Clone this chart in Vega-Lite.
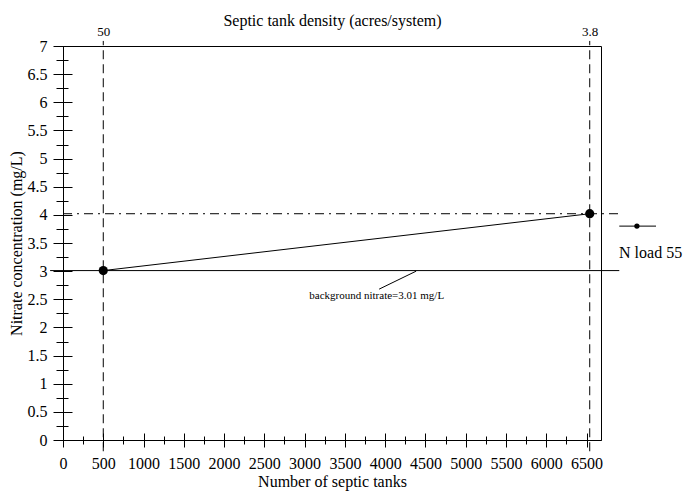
{
  "$schema": "https://vega.github.io/schema/vega-lite/v6.json",
  "width": 538,
  "height": 394,
  "autosize": {"type": "none"},
  "padding": {"left": 63, "top": 46, "right": 82, "bottom": 51},
  "background": "white",
  "config": {
    "font": "Liberation Serif",
    "view": {"stroke": "black", "strokeWidth": 1},
    "axis": {
      "grid": false,
      "domainColor": "black",
      "tickColor": "black",
      "labelColor": "black",
      "titleColor": "black",
      "labelFont": "Liberation Serif",
      "titleFont": "Liberation Serif",
      "titleFontWeight": "normal",
      "labelOverlap": false,
      "labelFlush": false,
      "domainWidth": 1,
      "tickWidth": 1
    },
    "text": {"font": "Liberation Serif", "color": "black"}
  },
  "datasets": {
    "solidSegments": [
      {"x": -160, "x2": 6907, "y": 3.01, "y2": 3.01},
      {"x": 3925, "x2": 4385, "y": 2.68, "y2": 3.0},
      {"x": 6907, "x2": 7363, "y": 3.8, "y2": 3.8}
    ],
    "densityMarkers": [
      {"x": 500, "y": -0.2, "y2": 7.09, "density": "50"},
      {"x": 6540, "y": -0.2, "y2": 7.09, "density": "3.8"}
    ],
    "targetLevel": [
      {"x": 0, "x2": 6907, "y": 4.02}
    ],
    "nload55": [
      {"x": 500, "y": 3.01},
      {"x": 6540, "y": 4.02}
    ],
    "legendDot": [
      {"x": 7126, "y": 3.8}
    ],
    "noteText": [
      {"x": 3895, "y": 2.56, "label": "background nitrate=3.01 mg/L"}
    ],
    "legendText": [
      {"x": 6904, "y": 3.32, "label": "N load 55"}
    ]
  },
  "resolve": {"axis": {"x": "independent", "y": "independent"}},
  "layer": [
    {
      "data": {"name": "solidSegments"},
      "mark": {"type": "rule", "color": "black", "strokeWidth": 1},
      "encoding": {
        "x": {
          "field": "x", "type": "quantitative",
          "scale": {"domain": [0, 6680], "nice": false, "zero": false},
          "axis": {
            "orient": "bottom",
            "values": [0, 500, 1000, 1500, 2000, 2500, 3000, 3500, 4000, 4500, 5000, 5500, 6000, 6500],
            "format": "d",
            "tickSize": 7,
            "labelFontSize": 16,
            "labelPadding": 8,
            "title": "Number of septic tanks",
            "titleFontSize": 16,
            "titlePadding": 2
          }
        },
        "x2": {"field": "x2"},
        "y": {
          "field": "y", "type": "quantitative",
          "scale": {"domain": [0, 7], "nice": false, "zero": false},
          "axis": {
            "orient": "left",
            "values": [0, 0.5, 1, 1.5, 2, 2.5, 3, 3.5, 4, 4.5, 5, 5.5, 6, 6.5, 7],
            "format": "~g",
            "tickSize": 10,
            "labelFontSize": 16,
            "labelPadding": 6,
            "title": "Nitrate concentration (mg/L)",
            "titleFontSize": 16,
            "titlePadding": 3
          }
        },
        "y2": {"field": "y2"}
      }
    },
    {
      "data": {"name": "densityMarkers"},
      "mark": {"type": "rule", "color": "black", "strokeWidth": 1, "strokeDash": [9, 5]},
      "encoding": {
        "x": {
          "field": "x", "type": "quantitative",
          "scale": {"domain": [0, 6680], "nice": false, "zero": false},
          "axis": {
            "orient": "bottom",
            "values": [0, 500, 1000, 1500, 2000, 2500, 3000, 3500, 4000, 4500, 5000, 5500, 6000, 6500],
            "tickSize": 7, "offset": -7, "labels": false, "domain": false, "title": null
          }
        },
        "y": {
          "field": "y", "type": "quantitative",
          "scale": {"domain": [0, 7], "nice": false, "zero": false},
          "axis": {
            "orient": "left",
            "values": [0, 0.5, 1, 1.5, 2, 2.5, 3, 3.5, 4, 4.5, 5, 5.5, 6, 6.5, 7],
            "tickSize": 9, "offset": -9, "labels": false, "domain": false, "title": null
          }
        },
        "y2": {"field": "y2"}
      }
    },
    {
      "data": {"name": "targetLevel"},
      "mark": {"type": "rule", "color": "black", "strokeWidth": 1, "strokeDash": [9, 5, 2, 5]},
      "encoding": {
        "x": {
          "field": "x", "type": "quantitative",
          "scale": {"domain": [0, 6680], "nice": false, "zero": false},
          "axis": {
            "orient": "bottom",
            "values": [250, 750, 1250, 1750, 2250, 2750, 3250, 3750, 4250, 4750, 5250, 5750, 6250],
            "tickSize": 8, "offset": -4, "labels": false, "domain": false, "title": null
          }
        },
        "x2": {"field": "x2"},
        "y": {
          "field": "y", "type": "quantitative",
          "scale": {"domain": [0, 7], "nice": false, "zero": false},
          "axis": {
            "orient": "left",
            "values": [0.25, 0.75, 1.25, 1.75, 2.25, 2.75, 3.25, 3.75, 4.25, 4.75, 5.25, 5.75, 6.25, 6.75],
            "tickSize": 12, "offset": -5, "labels": false, "domain": false, "title": null
          }
        }
      }
    },
    {
      "data": {"name": "nload55"},
      "mark": {"type": "line", "color": "black", "strokeWidth": 1},
      "encoding": {
        "x": {
          "field": "x", "type": "quantitative",
          "scale": {"domain": [0, 6680], "nice": false, "zero": false},
          "axis": {
            "orient": "top",
            "values": [500, 6540],
            "labelExpr": "datum.value == 500 ? '50' : '3.8'",
            "ticks": false,
            "domain": false,
            "labelFontSize": 13,
            "labelPadding": 8,
            "title": "Septic tank density (acres/system)",
            "titleFontSize": 16,
            "titlePadding": -3
          }
        },
        "y": {
          "field": "y", "type": "quantitative",
          "scale": {"domain": [0, 7], "nice": false, "zero": false},
          "axis": null
        }
      }
    },
    {
      "data": {"name": "nload55"},
      "mark": {"type": "point", "filled": true, "shape": "circle", "size": 85, "color": "black", "opacity": 1},
      "encoding": {
        "x": {"field": "x", "type": "quantitative", "scale": {"domain": [0, 6680], "nice": false, "zero": false}, "axis": null},
        "y": {"field": "y", "type": "quantitative", "scale": {"domain": [0, 7], "nice": false, "zero": false}, "axis": null}
      }
    },
    {
      "data": {"name": "legendDot"},
      "mark": {"type": "point", "filled": true, "shape": "circle", "size": 28, "color": "black", "opacity": 1},
      "encoding": {
        "x": {"field": "x", "type": "quantitative", "scale": {"domain": [0, 6680], "nice": false, "zero": false}, "axis": null},
        "y": {"field": "y", "type": "quantitative", "scale": {"domain": [0, 7], "nice": false, "zero": false}, "axis": null}
      }
    },
    {
      "data": {"name": "noteText"},
      "mark": {"type": "text", "fontSize": 11, "align": "center", "baseline": "middle", "color": "black"},
      "encoding": {
        "x": {"field": "x", "type": "quantitative", "scale": {"domain": [0, 6680], "nice": false, "zero": false}, "axis": null},
        "y": {"field": "y", "type": "quantitative", "scale": {"domain": [0, 7], "nice": false, "zero": false}, "axis": null},
        "text": {"field": "label"}
      }
    },
    {
      "data": {"name": "legendText"},
      "mark": {"type": "text", "fontSize": 16, "align": "left", "baseline": "middle", "color": "black"},
      "encoding": {
        "x": {"field": "x", "type": "quantitative", "scale": {"domain": [0, 6680], "nice": false, "zero": false}, "axis": null},
        "y": {"field": "y", "type": "quantitative", "scale": {"domain": [0, 7], "nice": false, "zero": false}, "axis": null},
        "text": {"field": "label"}
      }
    }
  ]
}
